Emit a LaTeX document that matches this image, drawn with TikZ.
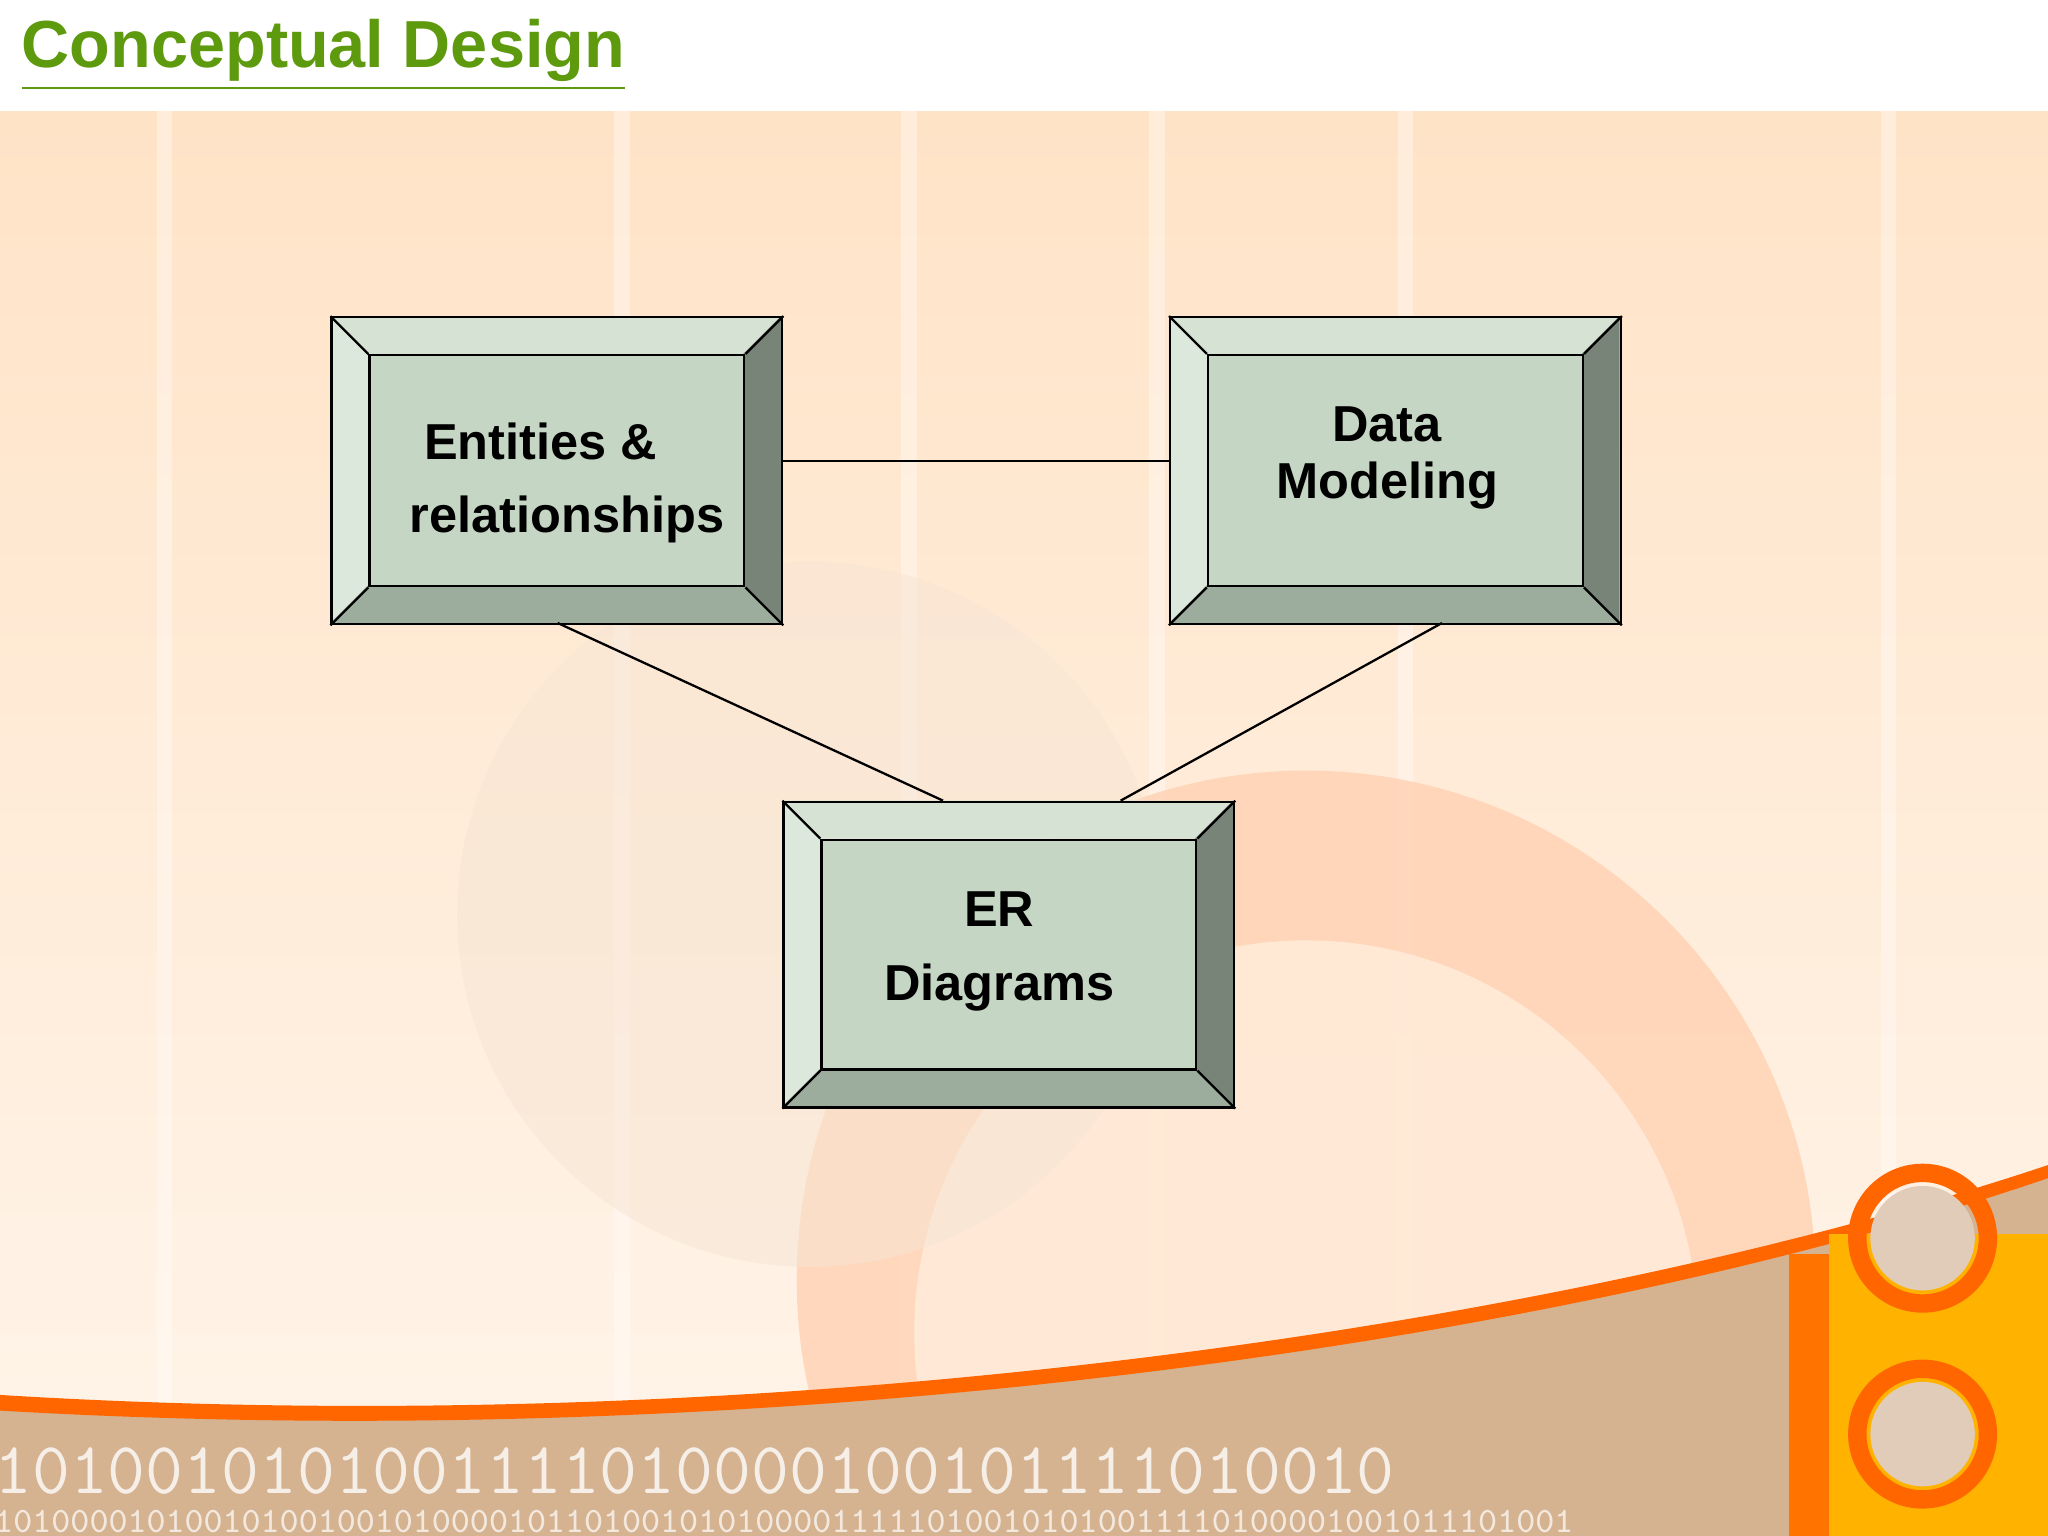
\documentclass[tikz,border=0pt]{standalone}
\usepackage{fontspec}
\setmainfont{Liberation Sans}
\definecolor{bvtop}{RGB}{213,226,212}
\definecolor{bvleft}{RGB}{221,232,220}
\definecolor{bvright}{RGB}{120,132,120}
\definecolor{bvbot}{RGB}{157,173,157}
\definecolor{bvin}{RGB}{197,214,196}
\definecolor{ttl}{RGB}{94,154,14}
\begin{document}
\begin{tikzpicture}[x=0.01cm,y=-0.01cm,
  lbl/.style={font=\bfseries\fontsize{11}{20}\selectfont,align=center,text=black},
  ln/.style={draw=black,line width=0.5pt}]
\useasboundingbox (0,0) rectangle (1568,1176);
\begin{scope}
\clip (0,0) rectangle (1568,1176);
\fill[white] (0,0) rectangle (1568,85);
\shade[top color=orange!22!white,bottom color=orange!8!white] (0,85) rectangle (1568,1176);
\foreach \x in {120,470,690,880,1070,1440}{\fill[white,opacity=0.35] (\x,85) rectangle (\x+12,1100);}
\fill[red!20!orange!30!white,opacity=0.8] (1000,980) circle (390);
\fill[white!85!orange,opacity=0.9] (1000,1020) circle (300);
\fill[gray!30!orange!20!white,opacity=0.5] (620,700) circle (270);
\fill[gray!55!orange!60!white] (0,1075) .. controls (600,1110) and (1200,1020) .. (1568,895) -- (1568,1176) -- (0,1176) -- cycle;
\fill[orange!80!red] (0,1068) .. controls (600,1105) and (1200,1015) .. (1568,892) -- (1568,902) .. controls (1200,1028) and (600,1115) .. (0,1080) -- cycle;
\fill[orange!90!red] (1370,960) rectangle (1568,1176);
\fill[orange!60!yellow] (1400,945) rectangle (1568,1176);
\draw[orange!80!red,line width=4pt] (1472,948) circle (50);
\fill[gray!60!orange!40!white] (1472,948) circle (40);
\draw[orange!80!red,line width=4pt] (1472,1098) circle (50);
\fill[gray!60!orange!40!white] (1472,1098) circle (40);
\node[anchor=west,text=white,opacity=0.8,font=\ttfamily\fontsize{16}{16}\selectfont,inner sep=0pt] (bin1) at (-5,1126) {1010010101001111010000100101111010010};
\node[anchor=south west,text=white,opacity=0.7,font=\ttfamily\fontsize{7.8}{8}\selectfont,inner sep=0pt] (bin2) at (-5,1174) {10100001010010100100101000010110100101010000111110100101010011110100001001011101001};
\end{scope}
\node[anchor=west,text=ttl,font=\bfseries\fontsize{14.5}{16}\selectfont,inner sep=0pt] (title) at (16,42) {\underline{Conceptual Design}};
\newcommand{\bevbox}[5]{%
 \fill[bvtop] (#1,#2) -- (#3,#2) -- (#3-29,#2+29) -- (#1+29,#2+29) -- cycle;
 \fill[bvleft] (#1,#2) -- (#1+29,#2+29) -- (#1+29,#4-29) -- (#1,#4) -- cycle;
 \fill[bvright] (#3,#2) -- (#3,#4) -- (#3-29,#4-29) -- (#3-29,#2+29) -- cycle;
 \fill[bvbot] (#1,#4) -- (#3,#4) -- (#3-29,#4-29) -- (#1+29,#4-29) -- cycle;
 \node[ln,fill=bvin,minimum width=(#3-#1-58)*0.01cm,minimum height=(#4-#2-58)*0.01cm,inner sep=0pt,anchor=north west] (#5i) at (#1+29,#2+29) {};
 \node[ln,minimum width=(#3-#1)*0.01cm,minimum height=(#4-#2)*0.01cm,inner sep=0pt,anchor=north west] (#5) at (#1,#2) {};
 \draw[ln] (#5.north west)--(#5i.north west) (#5.north east)--(#5i.north east) (#5.south west)--(#5i.south west) (#5.south east)--(#5i.south east);}
\bevbox{253}{242}{598}{477}{a}
\bevbox{895}{242}{1240}{477}{b}
\bevbox{599}{613}{944}{847}{c}
\node[lbl,anchor=west,inner sep=0pt] (ta1) at (324,338) {Entities \&};
\node[lbl,anchor=west,inner sep=0pt] (ta2) at (313,398) {relationships};
\node[lbl] (tb1) at (1062,325) {Data};
\node[lbl] (tb2) at (1062,372) {Modeling};
\node[lbl] (tc1) at (765,696) {ER};
\node[lbl] (tc2) at (765,756) {Diagrams};
\coordinate (ar) at (598,353); \coordinate (bl) at (895,353);
\coordinate (a1) at (427,477); \coordinate (c1) at (722,613);
\coordinate (b1) at (1104,477); \coordinate (c2) at (858,613);
\draw[ln] (ar) -- (bl);
\draw[ln] (a1) -- (c1);
\draw[ln] (b1) -- (c2);
\end{tikzpicture}
\end{document}
